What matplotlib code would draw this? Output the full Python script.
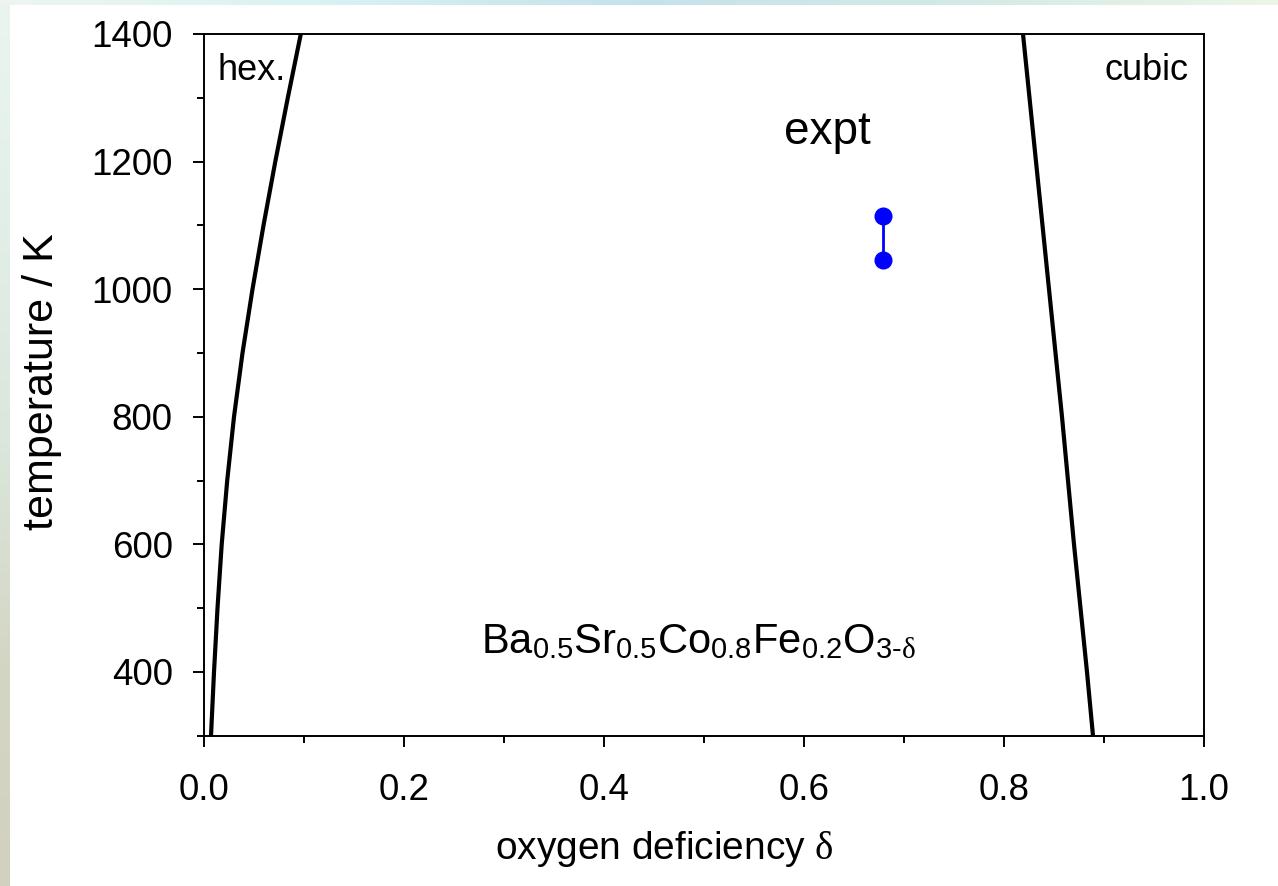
import matplotlib
matplotlib.use('Agg')
import matplotlib.pyplot as plt
from matplotlib.colors import to_rgb
from matplotlib.ticker import MultipleLocator
import numpy as np

plt.rcParams.update({'font.family': 'Liberation Sans',
                     'mathtext.fontset': 'custom',
                     'mathtext.rm': 'Liberation Sans',
                     'mathtext.it': 'Liberation Serif',
                     'mathtext.default': 'it'})

# phase boundaries: temperature (K) vs oxygen deficiency
T_hex = [300, 400, 500, 600, 700, 800, 900, 1000, 1100, 1200, 1300, 1400]
d_hex = [0.007, 0.010, 0.0135, 0.0177, 0.0232, 0.030, 0.0385, 0.0485, 0.0595, 0.0713, 0.0838, 0.0968]

T_cub = [300, 400, 600, 800, 1000, 1200, 1400]
d_cub = [0.889, 0.883, 0.870, 0.858, 0.845, 0.832, 0.819]

# measured range
d_expt = [0.679, 0.679]
T_expt = [1046, 1115]

W, H = 1278, 886
fig = plt.figure(figsize=(W / 100, H / 100), dpi=100, facecolor='white')

# slide frame strips along the top and left edges
img = np.ones((H, W, 3))
top_cols = [to_rgb(c) for c in ['#eef6ef', '#d9f3f3', '#c6e2ea', '#d3eae6', '#ecf6e6']]
xs = np.linspace(0, 1, W)
pos = np.linspace(0, 1, len(top_cols))
top = np.stack([np.interp(xs, pos, [c[k] for c in top_cols]) for k in range(3)], axis=1)
img[:5, :, :] = top[None, :, :]
left_cols = [to_rgb(c) for c in ['#eaf5ef', '#e2efe8', '#dbe6dc', '#d4d6c4', '#d2d1bf']]
ys = np.linspace(0, 1, H)
pos = np.linspace(0, 1, len(left_cols))
left = np.stack([np.interp(ys, pos, [c[k] for c in left_cols]) for k in range(3)], axis=1)
img[5:, :10, :] = left[5:, None, :]
bg = fig.add_axes([0, 0, 1, 1], zorder=-10)
bg.imshow(img, aspect='auto', interpolation='nearest')
bg.axis('off')

ax = fig.add_axes([204 / W, 1 - 735.8 / H, 1000 / W, 701.8 / H])
ax.plot(d_hex, T_hex, color='black', lw=3, solid_capstyle='butt', solid_joinstyle='round')
ax.plot(d_cub, T_cub, color='black', lw=3, solid_capstyle='butt', solid_joinstyle='round')
ax.plot(d_expt, T_expt, color='#0000ff', lw=2, marker='o', ms=12, clip_on=False)

ax.set_xlim(0, 1.0)
ax.set_ylim(300, 1400)
ax.xaxis.set_major_locator(MultipleLocator(0.2))
ax.xaxis.set_minor_locator(MultipleLocator(0.1))
ax.yaxis.set_major_locator(MultipleLocator(200))
ax.yaxis.set_minor_locator(MultipleLocator(100))
ax.set_yticks([400, 600, 800, 1000, 1200, 1400])
ax.xaxis.set_major_formatter(lambda v, p: f'{v:.1f}')
ax.tick_params(which='both', direction='out', width=1.4, labelsize=26.5, top=False, right=False)
ax.tick_params(which='major', length=8)
ax.tick_params(which='minor', length=5)
ax.tick_params(axis='y', pad=14.5)
ax.tick_params(axis='x', pad=19)
for s in ax.spines.values():
    s.set_linewidth(1.4)

ax.set_xlabel(r'oxygen deficiency $\delta$', fontsize=28)
ax.xaxis.set_label_coords(0.46, -0.133)
ax.set_ylabel('temperature / K', fontsize=31)
ax.yaxis.set_label_coords(-0.142, 0.505)

ax.text(0.013, 1328, 'hex.', fontsize=26, ha='left', va='baseline')
ax.text(0.985, 1328, 'cubic', fontsize=26, ha='right', va='baseline')
ax.text(0.6235, 1227, 'expt', fontsize=33, ha='center', va='baseline')
ax.text(0.4945, 430, r'Ba$_{0.5}$Sr$_{0.5}$Co$_{0.8}$Fe$_{0.2}$O$_{3\text{-}\delta}$',
        fontsize=30, ha='center', va='baseline')

fig.savefig('out.png', dpi=100, facecolor='white')
